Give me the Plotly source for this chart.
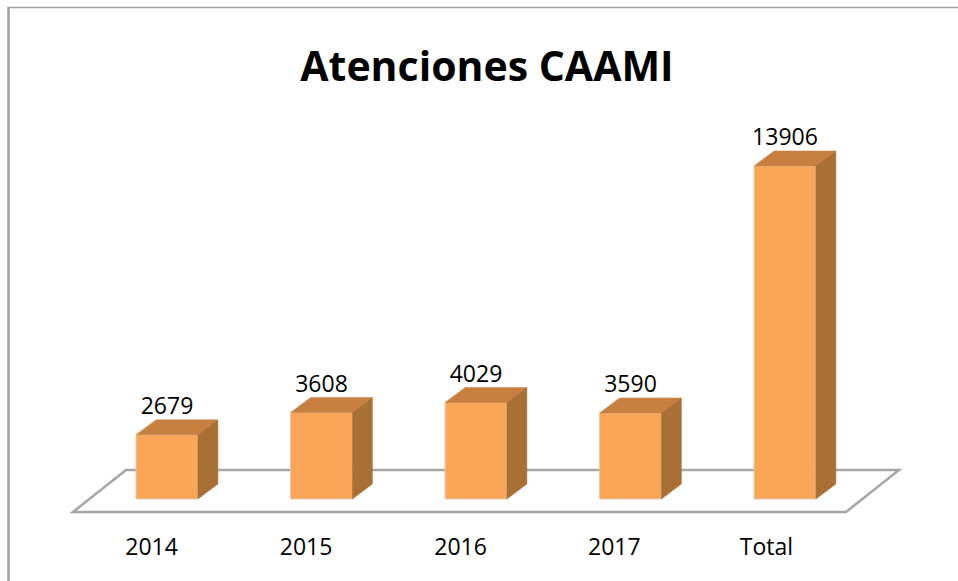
import plotly.graph_objects as go

categories = ["2014", "2015", "2016", "2017", "Total"]
values = [2679, 3608, 4029, 3590, 13906]
bar_pos = [0, 1, 2, 3, 4]
tick_pos = [-0.10, 0.90, 1.90, 2.895, 3.88]

W, H = 958, 581
PX_X = 154.5          # pixels per category
PX_Y = 0.02395        # pixels per value unit
X0_PX, Y0_PX = 167, 499
PLOT_BOTTOM = 525
BAR_W = 0.40
DX = 20 / PX_X        # 3D depth offsets
DY = 15 / PX_Y

FRONT, TOP, SIDE = "#FAA557", "#C88041", "#A97035"
GRID = "#A6A6A6"


def xv(px):
    return (px - X0_PX) / PX_X


def yv(px):
    return (Y0_PX - px) / PX_Y


fig = go.Figure()

fig.add_trace(go.Bar(x=bar_pos, y=values, width=BAR_W, marker=dict(color=FRONT, line=dict(color="#E3C7AB", width=1)),
                     hoverinfo="skip", showlegend=False))

for p, v in zip(bar_pos, values):
    l, r = p - BAR_W / 2, p + BAR_W / 2
    fig.add_trace(go.Scatter(x=[l, r, r + DX, l + DX, l], y=[v, v, v + DY, v + DY, v], mode="lines", fill="toself",
                             fillcolor=TOP, line=dict(color=TOP, width=0.5), hoverinfo="skip", showlegend=False))
    fig.add_trace(go.Scatter(x=[r, r + DX, r + DX, r, r], y=[0, DY, v + DY, v, 0], mode="lines", fill="toself",
                             fillcolor=SIDE, line=dict(color=SIDE, width=0.5), hoverinfo="skip", showlegend=False))

fig.add_trace(go.Scatter(x=bar_pos, y=[v + DY for v in values], mode="text", text=[str(v) for v in values],
                         textposition="top center", textfont=dict(family="Open Sans", size=23, color="#000000"),
                         hoverinfo="skip", showlegend=False))

floor = [(73, 512), (846, 512), (899, 470), (126, 470)]
path = "M " + " L ".join(f"{xv(a):.4f},{yv(b):.1f}" for a, b in floor) + " Z"

shapes = [
    dict(type="path", path=path, xref="x", yref="y", layer="below", fillcolor="#FFFFFF", line=dict(color=GRID, width=2.5)),
    dict(type="line", xref="paper", yref="paper", x0=8.5 / W, x1=8.5 / W, y0=-56 / 525, y1=1 - 7.5 / 525,
         line=dict(color="#A0A0A0", width=2.5)),
    dict(type="line", xref="paper", yref="paper", x0=7.5 / W, x1=1, y0=1 - 7.5 / 525, y1=1 - 7.5 / 525,
         line=dict(color="#A0A0A0", width=1.5)),
]
for s in shapes[1:]:
    s["layer"] = "above"

fig.update_layout(
    width=W, height=H, margin=dict(l=0, r=0, t=0, b=H - PLOT_BOTTOM),
    paper_bgcolor="#FFFFFF", plot_bgcolor="#FFFFFF", showlegend=False, shapes=shapes,
    xaxis=dict(range=[xv(0), xv(W)], tickmode="array", tickvals=tick_pos, ticktext=categories, showgrid=False,
               zeroline=False, showline=False, ticks="", tickfont=dict(family="Open Sans", size=23, color="#000000"),
               ticklabelstandoff=6, fixedrange=True),
    yaxis=dict(range=[yv(PLOT_BOTTOM), yv(0)], visible=False, fixedrange=True),
    title=dict(text="<b>Atenciones CAAMI</b>", x=487 / W, xanchor="center", y=1 - 67 / H, yanchor="middle",
               font=dict(family="Open Sans", size=41, color="#000000")),
)

fig.write_html("out.html", config={"displayModeBar": False},
               post_script="document.body.style.margin='0';document.body.style.overflow='hidden';")
